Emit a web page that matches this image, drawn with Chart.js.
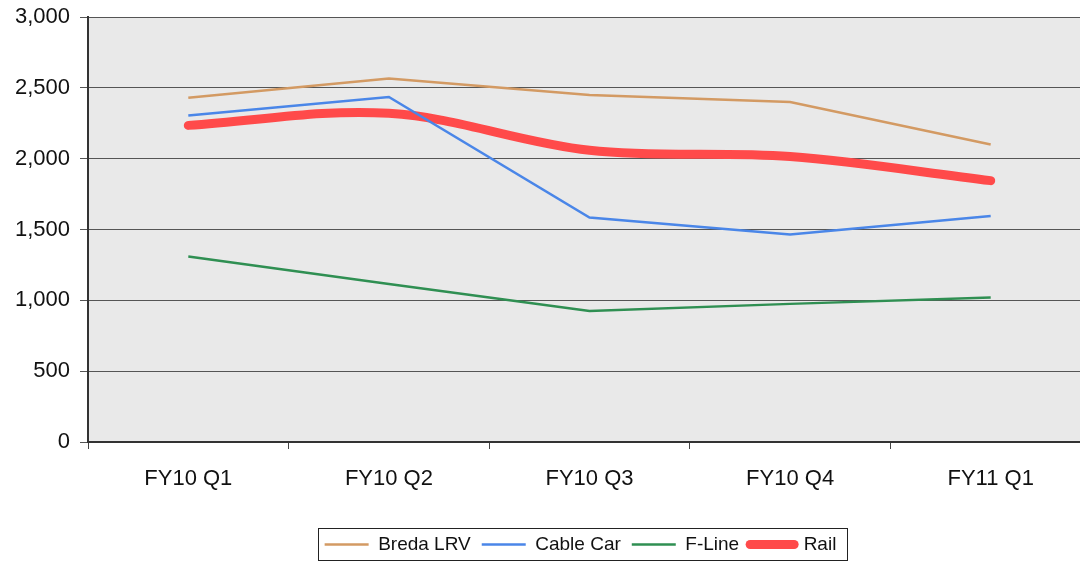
<!DOCTYPE html>
<html>
<head>
<meta charset="utf-8">
<script src="https://cdn.jsdelivr.net/npm/chart.js@4.4.0/dist/chart.umd.min.js"></script>
<style>
  html, body { margin: 0; padding: 0; background: #fff; overflow: hidden; }
  #wrap { width: 1092px; height: 561px; }
</style>
</head>
<body>
<div id="wrap"><canvas id="trendChart" width="1092" height="561"></canvas></div>
<script>
const quarters = ['FY10 Q1', 'FY10 Q2', 'FY10 Q3', 'FY10 Q4', 'FY11 Q1'];
const bredaLRV = [2430, 2565, 2450, 2400, 2100];
const cableCar = [2305, 2435, 1585, 1465, 1595];
const fLine = [1310, 1115, 925, 975, 1020];
const rail = [2235, 2320, 2060, 2015, 1845];

const FONT = "'Liberation Sans', Arial, sans-serif";

// grey plot area behind the grid
const plotBg = {
    id: 'plotBg',
    beforeDraw(chart) {
        const a = chart.chartArea;
        const c = chart.ctx;
        c.save();
        c.fillStyle = '#e9e9e9';
        c.fillRect(a.left, a.top, a.right - a.left, a.bottom - a.top);
        c.restore();
    }
};

// move the legend under the middle of the plot and put a box round it
const legendBox = {
    id: 'legendBox',
    afterLayout(chart) {
        const lg = chart.legend;
        const target = (chart.chartArea.left + chart.chartArea.right) / 2 - 9;
        const dx = target - (lg.left + lg.right) / 2;
        const dy = 3;
        lg.left += dx;
        lg.right += dx;
        lg.top += dy;
        lg.bottom += dy;
        lg.legendHitBoxes.forEach(h => { h.left += dx; });
    },
    afterDraw(chart) {
        const lg = chart.legend;
        const boxes = lg.legendHitBoxes;
        if (!boxes.length) return;
        const first = boxes[0], last = boxes[boxes.length - 1];
        const x0 = Math.round(first.left - 7);
        const x1 = Math.round(last.left + last.width + 11);
        const y0 = Math.round(lg.top + 4);
        const c = chart.ctx;
        c.save();
        c.strokeStyle = '#222';
        c.lineWidth = 1;
        c.strokeRect(x0 + 0.5, y0 + 0.5, x1 - x0, 32);
        c.restore();
    }
};

const thin = { borderWidth: 2.5, pointRadius: 0, fill: false, tension: 0 };

new Chart(document.getElementById('trendChart'), {
    type: 'line',
    data: {
        labels: quarters,
        datasets: [
            Object.assign({ label: 'Breda LRV', data: bredaLRV, borderColor: '#d39a63' }, thin),
            Object.assign({ label: 'Cable Car', data: cableCar, borderColor: '#4a86e8' }, thin),
            Object.assign({ label: 'F-Line', data: fLine, borderColor: '#2f8f52' }, thin),
            {
                label: 'Rail',
                data: rail,
                borderColor: '#ff4a4a',
                borderWidth: 9,
                borderCapStyle: 'round',
                pointRadius: 0,
                fill: false,
                tension: 0.35
            }
        ]
    },
    options: {
        responsive: false,
        animation: false,
        devicePixelRatio: 1,
        layout: { padding: { top: 17, right: 1, left: 0, bottom: 0 } },
        plugins: {
            legend: {
                position: 'bottom',
                labels: {
                    usePointStyle: true,
                    pointStyle: 'line',
                    pointStyleWidth: 44,
                    padding: 11,
                    color: '#111',
                    font: { family: FONT, size: 19 },
                    generateLabels(chart) {
                        const items = Chart.defaults.plugins.legend.labels.generateLabels(chart);
                        items.forEach(it => {
                            const ds = chart.data.datasets[it.datasetIndex];
                            it.strokeStyle = ds.borderColor;
                            it.lineWidth = ds.borderWidth;
                            it.lineCap = ds.borderCapStyle || 'butt';
                        });
                        return items;
                    }
                }
            },
            tooltip: { enabled: false }
        },
        scales: {
            x: {
                offset: true,
                grid: {
                    offset: true,
                    drawOnChartArea: false,
                    drawTicks: true,
                    tickLength: 7,
                    color: '#444'
                },
                border: { color: '#333', width: 2 },
                ticks: {
                    color: '#111',
                    padding: 17,
                    maxRotation: 0,
                    font: { family: FONT, size: 22 }
                },
                afterFit(scale) { scale.height = 79; }
            },
            y: {
                min: 0,
                max: 3000,
                grid: {
                    color: '#555',
                    lineWidth: 1,
                    drawTicks: true,
                    tickLength: 8
                },
                border: { color: '#333', width: 2 },
                ticks: {
                    stepSize: 500,
                    color: '#111',
                    padding: 10,
                    font: { family: FONT, size: 22 },
                    callback: v => v.toLocaleString('en-US')
                },
                afterFit(scale) {
                    scale.width = 88;
                    scale.paddingTop = 0;
                    scale.paddingBottom = 0;
                }
            }
        }
    },
    plugins: [plotBg, legendBox]
});
</script>
</body>
</html>
